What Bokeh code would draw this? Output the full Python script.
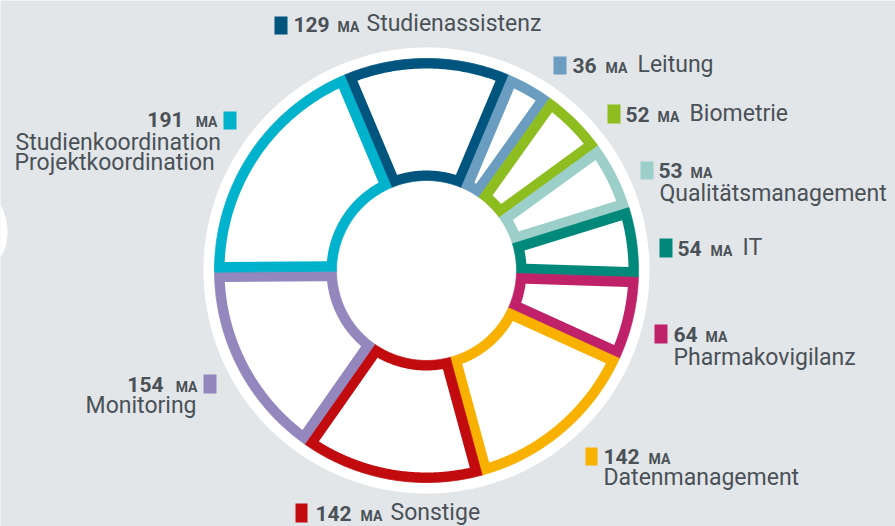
import numpy as np
from bokeh.plotting import figure
from bokeh.models import Range1d
from bokeh.embed import file_html
from bokeh.resources import INLINE
from bokeh.core.properties import value

# ---------------- data ----------------
categories = ["Studienassistenz", "Leitung", "Biometrie", "Qualitätsmanagement", "IT",
              "Pharmakovigilanz", "Datenmanagement", "Sonstige", "Monitoring",
              "Studienkoordination\nProjektkoordination"]
values = [129, 36, 52, 53, 54, 64, 142, 142, 154, 191]
unit = "MA"
colors = ["#00557f", "#6b9dc1", "#8dbd1f", "#9ccfca", "#00897a",
          "#bf2268", "#f9b100", "#c10b0f", "#9387bd", "#00b2cb"]

# ---------------- style / layout ----------------
BG = "#e3e6e9"
TXT = "#4a5157"
CX, CY = 426, 270          # centre in screen pixels
R_IN, R_OUT, STROKE = 90, 212, 10
R_WHITE = 223
FONT = "Roboto"
NUM_SIZE, MA_SIZE, LAB_SIZE = 21, 14, 23
SHIFT = 0.38               # baseline correction (fraction of font size)

# label layout: square (l, t, r, b), header baseline, number x/align, unit x/align,
# inline label x (or None), extra line positions (x, baseline, align)
layout = [
    dict(sq=(274, 16, 287, 34), bl=32, num=(293, "left"), ma=(337, "left"), inline=366, lines=[]),
    dict(sq=(553, 56, 566, 74), bl=73, num=(572, "left"), ma=(605, "left"), inline=637, lines=[]),
    dict(sq=(607, 104, 620, 123), bl=122, num=(625, "left"), ma=(657, "left"), inline=689, lines=[]),
    dict(sq=(640, 161, 653, 179), bl=178, num=(658, "left"), ma=(690, "left"), inline=None,
         lines=[(659, 202, "left")]),
    dict(sq=(659, 238, 672, 257), bl=256, num=(677, "left"), ma=(710, "left"), inline=742, lines=[]),
    dict(sq=(654, 324, 667, 343), bl=342, num=(673, "left"), ma=(705, "left"), inline=None,
         lines=[(673, 366, "left")]),
    dict(sq=(585, 447, 597, 465), bl=464, num=(603, "left"), ma=(648, "left"), inline=None,
         lines=[(603, 486, "left")]),
    dict(sq=(295, 503, 307, 522), bl=521, num=(315, "left"), ma=(360, "left"), inline=390, lines=[]),
    dict(sq=(203, 374, 216, 393), bl=392, num=(163, "right"), ma=(197, "right"), inline=None,
         lines=[(196, 414, "right")]),
    dict(sq=(223, 111, 236, 129), bl=127, num=(183, "right"), ma=(217, "right"), inline=None,
         lines=[(15, 151, "left"), (14, 171, "left")]),
]

p = figure(width=895, height=526, x_range=Range1d(0, 895), y_range=Range1d(526, 0),
           output_backend="svg", toolbar_location=None, min_border=0,
           x_axis_type=None, y_axis_type=None)
p.grid.visible = False
p.outline_line_color = None
p.background_fill_color = BG
p.border_fill_color = BG


def circle_pts(cx, cy, r, n=360):
    t = np.linspace(0, 2 * np.pi, n, endpoint=False)
    return list(cx + r * np.sin(t)), list(cy - r * np.cos(t))


def sector(r0, r1, a0, a1, n=90):
    t = np.linspace(a0, a1, n)
    ti = t[::-1]
    xs = np.concatenate([CX + r1 * np.sin(t), CX + r0 * np.sin(ti)])
    ys = np.concatenate([CY - r1 * np.cos(t), CY - r0 * np.cos(ti)])
    return list(xs), list(ys)


def inset(r0, r1, a0, a1, d, n=90):
    ri, ro = r0 + d, r1 - d
    o0, o1 = a0 + np.arcsin(d / ro), a1 - np.arcsin(d / ro)
    i0, i1 = a0 + np.arcsin(d / ri), a1 - np.arcsin(d / ri)
    t = np.linspace(o0, o1, n)
    xs = list(CX + ro * np.sin(t))
    ys = list(CY - ro * np.cos(t))
    if i1 > i0:
        ti = np.linspace(i1, i0, n)
        xs += list(CX + ri * np.sin(ti))
        ys += list(CY - ri * np.cos(ti))
    else:
        rm = d / np.sin((a1 - a0) / 2)
        am = (a0 + a1) / 2
        xs.append(CX + rm * np.sin(am))
        ys.append(CY - rm * np.cos(am))
    return xs, ys


# white blob at the far left edge
bx, by = circle_pts(-45, 231, 52)
p.patch(bx, by, fill_color="white", line_color=None)

# white disc behind the ring
wx, wy = circle_pts(CX, CY, R_WHITE)
p.patch(wx, wy, fill_color="white", line_color=None)

total = float(sum(values))
spans = [v / total * 2 * np.pi for v in values]
start = -spans[0] / 2
outer_x, outer_y, inner_x, inner_y = [], [], [], []
a = start
for s in spans:
    ox, oy = sector(R_IN, R_OUT, a, a + s)
    ix, iy = inset(R_IN, R_OUT, a, a + s, STROKE)
    outer_x.append(ox); outer_y.append(oy)
    inner_x.append(ix); inner_y.append(iy)
    a += s

p.patches(outer_x, outer_y, fill_color=colors, line_color=colors, line_width=0.8)
p.patches(inner_x, inner_y, fill_color="white", line_color=None)

# ---------------- labels ----------------
sq_l, sq_r, sq_t, sq_b = [], [], [], []
num_t, num_x, num_y, num_a = [], [], [], []
ma_x, ma_y, ma_a = [], [], []
lab_t, lab_x, lab_y, lab_a = [], [], [], []
for cat, v, lay in zip(categories, values, layout):
    l, t, r, b = lay["sq"]
    sq_l.append(l); sq_t.append(t); sq_r.append(r); sq_b.append(b)
    num_t.append(str(v)); num_x.append(lay["num"][0])
    num_y.append(lay["bl"] - SHIFT * NUM_SIZE); num_a.append(lay["num"][1])
    ma_x.append(lay["ma"][0]); ma_y.append(lay["bl"] - SHIFT * MA_SIZE); ma_a.append(lay["ma"][1])
    parts = cat.split("\n")
    if lay["inline"] is not None:
        lab_t.append(parts[0]); lab_x.append(lay["inline"])
        lab_y.append(lay["bl"] - SHIFT * LAB_SIZE); lab_a.append("left")
    else:
        for txt, (lx, ly, la) in zip(parts, lay["lines"]):
            lab_t.append(txt); lab_x.append(lx); lab_y.append(ly - SHIFT * LAB_SIZE); lab_a.append(la)

p.quad(left=sq_l, right=sq_r, top=sq_t, bottom=sq_b, fill_color=colors, line_color=None)
p.text(x=num_x, y=num_y, text=num_t, text_align=num_a, text_baseline="alphabetic",
       text_font=value(FONT), text_font_style="bold", text_font_size=f"{NUM_SIZE}px", text_color=TXT)
p.text(x=ma_x, y=ma_y, text=[unit] * len(ma_x), text_align=ma_a, text_baseline="alphabetic",
       text_font=value(FONT), text_font_style="bold", text_font_size=f"{MA_SIZE}px", text_color=TXT)
p.text(x=lab_x, y=lab_y, text=lab_t, text_align=lab_a, text_baseline="alphabetic",
       text_font=value(FONT), text_font_size=f"{LAB_SIZE}px", text_color=TXT)

open("out.html", "w").write(file_html(p, INLINE))
